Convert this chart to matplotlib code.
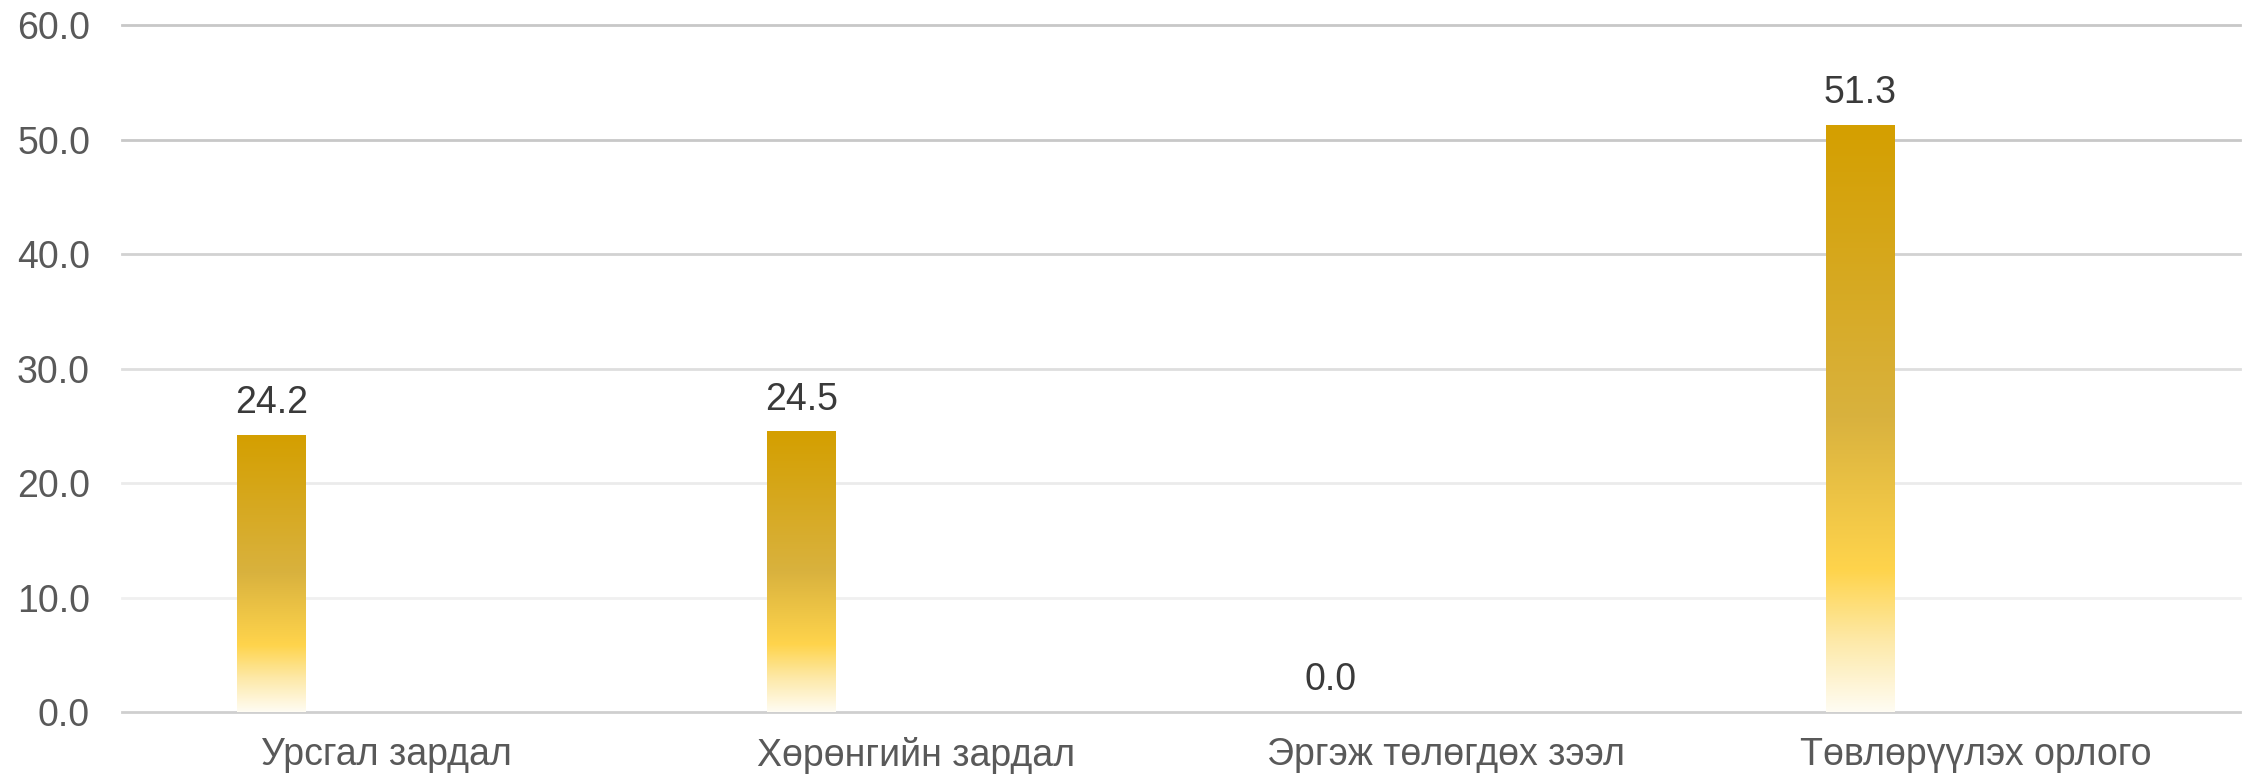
import numpy as np
import matplotlib
matplotlib.use("Agg")
import matplotlib.pyplot as plt
from matplotlib.colors import LinearSegmentedColormap

# -------------------------
# Data
# -------------------------
categories = ["Урсгал зардал", "Хөрөнгийн зардал", "Эргэж төлөгдөх зээл", "Төвлөрүүлэх орлого"]
values = [24.2, 24.5, 0.0, 51.3]
yticks = [0, 10, 20, 30, 40, 50, 60]
grid_colors = ["#cfcfcf", "#f0f0f0", "#ebebeb", "#dedede", "#d2d2d2", "#c8c8c8", "#c8c8c8"]

plt.rcParams["font.family"] = ["Liberation Sans", "DejaVu Sans"]

fig = plt.figure(figsize=(22.47, 7.79), dpi=100)
ax = fig.add_axes([122 / 2247, 1 - 712 / 779, (2240 - 122) / 2247, (712 - 25) / 779])

# gradient: bottom near white -> bright yellow -> muted gold -> dark gold on top
cmap = LinearSegmentedColormap.from_list(
    "gold",
    [(0.0, "#fffcf2"), (0.12, "#fde9a8"), (0.24, "#ffd44c"), (0.5, "#d9b23e"), (1.0, "#d49f00")],
)
grad = np.linspace(0, 1, 256).reshape(-1, 1)

offset = -0.217
width = 0.13
x = np.arange(len(categories))
bars = ax.bar(x + offset, values, width=width, color="none", zorder=3)

for b, v in zip(bars, values):
    if v <= 0:
        continue
    x0, y0 = b.get_x(), b.get_y()
    im = ax.imshow(grad, cmap=cmap, origin="lower", aspect="auto",
                   extent=[x0, x0 + b.get_width(), y0, y0 + b.get_height()], zorder=3)
    im.set_clip_path(b)

for b, v in zip(bars, values):
    ax.annotate(f"{v:.1f}", (b.get_x() + b.get_width() / 2, v), xytext=(0, 10),
                textcoords="offset points", ha="center", va="bottom",
                fontsize=27, color="#3a3a3a", zorder=4)

# gridlines, fading toward the bottom
for yt, c in zip(yticks, grid_colors):
    ax.axhline(yt, color=c, lw=2, zorder=1, clip_on=False)

ax.set_xlim(-0.5, 3.5)
ax.set_ylim(0, 60)
ax.set_yticks(yticks)
ax.set_yticklabels([f"{t:.1f}" for t in yticks])
ax.set_xticks(x)
ax.set_xticklabels(categories)
ax.tick_params(axis="y", length=0, pad=23, labelsize=27, labelcolor="#595959")
ax.tick_params(axis="x", length=0, pad=18, labelsize=27, labelcolor="#595959")
for s in ax.spines.values():
    s.set_visible(False)

fig.savefig("out.png", dpi=100)
